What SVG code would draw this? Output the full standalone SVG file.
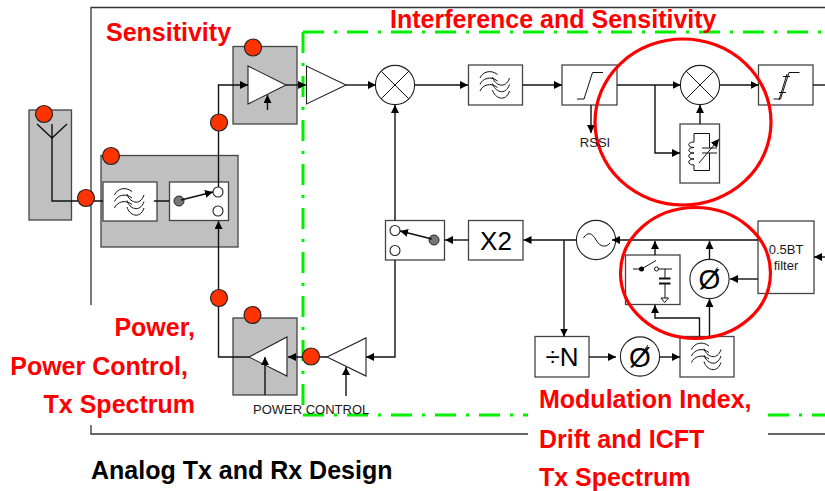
<svg xmlns="http://www.w3.org/2000/svg" width="825" height="491" viewBox="0 0 825 491">
<style>
text{font-family:"Liberation Sans",Arial,sans-serif}
.h{font-weight:bold;font-size:25px;fill:#ff0000}
.lab{font-size:13px;fill:#1a1a1a}
.big{font-size:26px;fill:#000;text-anchor:middle}
.gray{fill:#c0c0c0;stroke:#444;stroke-width:1.3}
.box{fill:#fff;stroke:#444;stroke-width:1.3}
.shape{fill:#fff;stroke:#222;stroke-width:1.1}
.thin{fill:none;stroke:#111;stroke-width:1}
.wire{fill:none;stroke:#111;stroke-width:1.4}
.arr{marker-end:url(#ah)}
.dot{fill:#ff3300;stroke:#222;stroke-width:1.2}
.green{fill:none;stroke:#00f000;stroke-width:3;stroke-dasharray:21 10 3 10}
.frame{fill:none;stroke:#333;stroke-width:1.3}
.ring{fill:none;stroke:#ff0000;stroke-width:3.2}
.knob{fill:#777;stroke:#222;stroke-width:1}
</style>
<defs>
<marker id="ah" markerUnits="userSpaceOnUse" markerWidth="9" markerHeight="9" refX="8" refY="4" orient="auto"><path d="M0,0L8,4L0,8Z" fill="#000"/></marker>
<g id="fi" class="thin">
<path d="M11.500,13C14,7 22,4 29,9.500M11.500,19.500C14,13.500 22,10.500 29,16M11.500,26C14,20 22,17 29,22.500"/>
<path d="M24,12C26,20 37,25 41,13M24,18.500C26,26.500 37,31.500 41,19.500M24,25C26,33 37,38 41,26"/>
</g>
<path id="lim" class="thin" d="M18,34H25L33.500,7.500H44"/>
<g id="mx"><circle r="19.600" class="shape"/><path class="thin" d="M-13.800,-13.800L13.800,13.800M-13.800,13.800L13.800,-13.800"/></g>
<g id="ph"><circle r="19.600" class="shape"/><text y="10" style="font-size:28px;fill:#000;text-anchor:middle">Ø</text><path class="thin" d="M-7,10L8,-11.500"/></g>
</defs>

<g id="frame">
<path class="frame" d="M91,305V7.500H825M91,425V434H528M768,434H825"/>
<path class="green" d="M303,32H825"/>
<path class="green" d="M303,32V415"/>
<path class="green" d="M303,415H528"/>
<path class="green" d="M768,415H825"/>
</g>

<g id="antenna"><rect class="gray" x="29" y="110" width="42.500" height="110"/><path class="wire" d="M37,124L52,138L67,124M52,124V138"/></g>
<g id="rx-front-end"><rect class="gray" x="101" y="155.500" width="137" height="91.500"/></g>
<g id="rx-filter"><rect class="box" x="103" y="182" width="54" height="39"/><use href="#fi" x="103" y="182"/></g>
<g id="rx-switch"><rect class="box" x="169.500" y="182" width="59" height="38.500"/><circle class="knob" cx="179" cy="201" r="5"/><circle class="shape" cx="218" cy="192" r="5"/><circle class="shape" cx="218" cy="211" r="5"/><path class="wire arr" d="M181,200L213,192"/></g>
<g id="lna"><rect class="gray" x="233" y="46.500" width="64" height="77.500"/><path class="shape" d="M248,66V104L286,85Z"/><path class="wire arr" d="M267.500,110V95"/></g>
<g id="pa"><rect class="gray" x="233" y="318" width="64" height="77"/><path class="shape" d="M287,337V376L249,357Z"/></g>
<g id="rx-amp"><path class="shape" d="M306.500,66V104L346,85Z"/></g>
<g id="mixer-1"><use href="#mx" x="395" y="85"/></g>
<g id="if-filter"><rect class="box" x="468.500" y="65" width="54" height="40"/><use href="#fi" x="468.500" y="65"/></g>
<g id="limiter-1"><rect class="box" x="562" y="65" width="55" height="40"/><use href="#lim" x="559" y="65"/></g>
<g id="mixer-2"><use href="#mx" x="700" y="85"/></g>
<g id="tank"><rect class="box" x="680" y="124" width="39.500" height="59"/>
<path class="thin" d="M694,142V133.500H709.500V148M702,148H717M702,153H717M709.500,153V170.500H694V165M694,142C687,142 687,147.500 694,147.500C687,147.500 687,153 694,153C687,153 687,159 694,159C687,159 687,165 694,165"/>
<path class="thin arr" d="M699,163L719,139"/></g>
<g id="limiter-2"><rect class="box" x="758.500" y="65" width="54.500" height="40"/><use href="#lim" x="755.500" y="65"/><path class="thin" d="M779,100L787,74M783,76.500H790M779,92.500H786"/></g>
<g id="osc"><circle class="shape" cx="596" cy="240" r="19.600"/><path class="thin" d="M583.500,238C587,232 592,232 596,240C600,247 606,248 610,243"/></g>
<g id="x2"><rect class="box" x="468.500" y="220.500" width="54.500" height="39.500"/><text class="big" x="496" y="250">X2</text></g>
<g id="tx-switch"><rect class="box" x="385.500" y="220.500" width="59" height="39.500"/><circle class="knob" cx="434" cy="240" r="5"/><circle class="shape" cx="395" cy="230.500" r="5"/><circle class="shape" cx="395" cy="250.500" r="5"/><path class="wire arr" d="M432,239L400,231"/></g>
<g id="bt-filter"><rect class="box" x="758" y="221" width="56" height="72.500"/><text class="lab" x="786" y="254" text-anchor="middle">0.5BT</text><text class="lab" x="786" y="270" text-anchor="middle">filter</text></g>
<g id="sample-hold"><rect class="box" x="625.500" y="255" width="54.500" height="49.500"/>
<path class="thin" d="M633,269H641M641.500,269L656,260.500M658,269H672M665,269V278.500M665,283.500V298"/>
<circle cx="641.500" cy="269" r="2.500" fill="#000"/><circle cx="656.500" cy="269" r="2" class="thin"/>
<path class="wire" style="stroke-width:1.800" d="M659,278.500H670.500M659,283.500H670.500"/>
<path class="thin" d="M661,298H668.500L664.700,302.500Z"/></g>
<g id="phase-1"><use href="#ph" x="709.500" y="279"/></g>
<g id="tx-filter"><rect class="box" x="680" y="336.500" width="54" height="40.500"/><use href="#fi" x="680" y="336.500"/></g>
<g id="phase-2"><use href="#ph" x="640" y="356.500"/></g>
<g id="div-n"><rect class="box" x="535" y="336.500" width="54" height="40.500"/><text class="big" x="562" y="366">÷N</text></g>
<g id="tx-driver"><path class="shape" d="M366,338V376L327,357Z"/></g>

<g id="connectors">
<path class="wire" d="M67,201H52V138M52,201H103M154,201H169.500"/>
<path class="wire arr" d="M218.500,187V85H248"/>
<path class="wire arr" d="M286,85H306"/>
<path class="wire arr" d="M346,85H376"/>
<path class="wire arr" d="M415,85H468"/>
<path class="wire arr" d="M522.500,85H562"/>
<path class="wire arr" d="M617,85H680.500"/>
<path class="wire arr" d="M655,85V153H680"/>
<path class="wire arr" d="M700,124V105"/>
<path class="wire arr" d="M720,85H758.500"/>
<path class="wire" d="M813,85H825"/>
<path class="wire arr" d="M591,105V133"/>
<path class="wire arr" d="M395,220.500V105"/>
<path class="wire arr" d="M395,260V357H366"/>
<path class="wire arr" d="M327,357H288"/>
<path class="wire arr" d="M346,396V367"/>
<path class="wire arr" d="M265,395V357"/>
<path class="wire" d="M249,357H218.500V300"/>
<path class="wire arr" d="M218.500,300V221"/>
<path class="wire arr" d="M758,240H612"/>
<path class="wire arr" d="M576,240H523.500"/>
<path class="wire arr" d="M468.500,240H445"/>
<path class="wire arr" d="M564,240V336.500"/>
<path class="wire arr" d="M825,257H814"/>
<path class="wire arr" d="M655,255V241"/>
<path class="wire arr" d="M709.500,259V241"/>
<path class="wire arr" d="M758,279H730"/>
<path class="wire arr" d="M709.500,336.500V299"/>
<path class="wire arr" d="M699.500,336.500V318H655V305"/>
<path class="wire arr" d="M589,357H616"/>
<path class="wire arr" d="M660,357H680"/>
</g>

<g id="markers">
<circle class="dot" cx="44" cy="114" r="8.500"/>
<circle class="dot" cx="86" cy="198" r="8.500"/>
<circle class="dot" cx="111" cy="156" r="8.500"/>
<circle class="dot" cx="253" cy="47.500" r="8.500"/>
<circle class="dot" cx="219" cy="122.500" r="8.500"/>
<circle class="dot" cx="219" cy="298" r="8.500"/>
<circle class="dot" cx="252.500" cy="315" r="8.500"/>
<circle class="dot" cx="311" cy="356.500" r="8.500"/>
</g>

<g id="rings">
<ellipse class="ring" cx="683" cy="122" rx="88" ry="83"/>
<ellipse class="ring" cx="695.500" cy="273" rx="75" ry="65.500"/>
</g>

<g id="labels">
<text class="lab" x="595" y="147" text-anchor="middle">RSSI</text>
<text class="lab" x="253" y="413.500">POWER CONTROL</text>
<text class="h" x="106" y="41">Sensitivity</text>
<text class="h" x="390" y="28">Interference and Sensitivity</text>
<text class="h" x="195" y="336" text-anchor="end">Power,</text>
<text class="h" x="188" y="375" text-anchor="end">Power Control,</text>
<text class="h" x="195" y="413" text-anchor="end">Tx Spectrum</text>
<text class="h" x="539" y="408">Modulation Index,</text>
<text class="h" x="539" y="447.500">Drift and ICFT</text>
<text class="h" x="539" y="485.500">Tx Spectrum</text>
<text x="91" y="479" style="font-weight:bold;font-size:25px;fill:#000">Analog Tx and Rx Design</text>
</g>
</svg>
